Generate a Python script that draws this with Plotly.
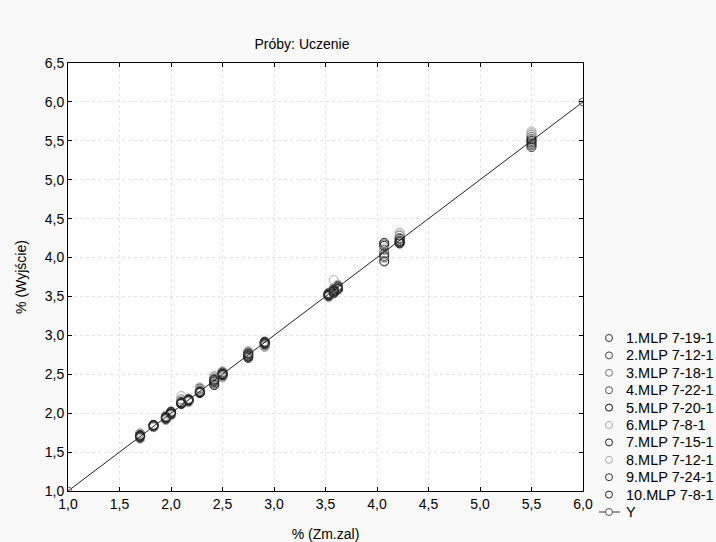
import plotly.graph_objects as go

x_vals = [1.70, 1.83, 1.95, 2.00, 2.10, 2.17, 2.28, 2.42, 2.50, 2.75, 2.91, 3.53, 3.58, 3.62, 4.07, 4.22, 5.50]

series_names = ["1.MLP 7-19-1", "2.MLP 7-12-1", "3.MLP 7-18-1", "4.MLP 7-22-1", "5.MLP 7-20-1",
                "6.MLP 7-8-1", "7.MLP 7-15-1", "8.MLP 7-12-1", "9.MLP 7-24-1", "10.MLP 7-8-1"]

s1 = [1.72, 1.84, 1.94, 2.00, 2.14, 2.17, 2.27, 2.40, 2.49, 2.74, 2.90, 3.52, 3.56, 3.62, 4.05, 4.20, 5.48]
s2 = [1.70, 1.83, 1.93, 1.99, 2.13, 2.16, 2.29, 2.44, 2.51, 2.76, 2.89, 3.51, 3.58, 3.60, 4.17, 4.25, 5.55]
s3 = [1.74, 1.85, 1.96, 2.01, 2.18, 2.18, 2.31, 2.46, 2.53, 2.78, 2.88, 3.54, 3.60, 3.63, 4.10, 4.28, 5.58]
s4 = [1.68, 1.82, 1.92, 1.98, 2.15, 2.15, 2.32, 2.42, 2.47, 2.72, 2.87, 3.50, 3.55, 3.61, 4.00, 4.22, 5.44]
s5 = [1.71, 1.84, 1.95, 2.02, 2.12, 2.17, 2.26, 2.38, 2.50, 2.73, 2.91, 3.53, 3.57, 3.64, 4.15, 4.19, 5.52]
s6 = [1.73, 1.83, 1.97, 2.00, 2.22, 2.19, 2.30, 2.48, 2.54, 2.80, 2.86, 3.55, 3.71, 3.62, 3.96, 4.32, 5.62]
s7 = [1.69, 1.84, 1.94, 1.99, 2.13, 2.16, 2.27, 2.36, 2.49, 2.71, 2.90, 3.52, 3.54, 3.59, 3.95, 4.18, 5.50]
s8 = [1.67, 1.82, 1.91, 1.97, 2.16, 2.14, 2.33, 2.45, 2.46, 2.79, 2.85, 3.49, 3.61, 3.65, 4.12, 4.30, 5.60]
s9 = [1.72, 1.83, 1.93, 2.01, 2.14, 2.18, 2.28, 2.41, 2.52, 2.75, 2.89, 3.54, 3.59, 3.62, 4.02, 4.24, 5.42]
s10 = [1.70, 1.85, 1.95, 2.00, 2.12, 2.17, 2.26, 2.43, 2.50, 2.77, 2.92, 3.51, 3.56, 3.60, 4.19, 4.21, 5.46]
series_values = [s1, s2, s3, s4, s5, s6, s7, s8, s9, s10]
series_colors = ["#333333", "#444444", "#777777", "#555555", "#111111",
                 "#aaaaaa", "#222222", "#aaaaaa", "#333333", "#222222"]

y_name = "Y"
y_x = [1.0, 6.0]
y_y = [1.0, 6.0]

tick_vals_x = [1.0, 1.5, 2.0, 2.5, 3.0, 3.5, 4.0, 4.5, 5.0, 5.5, 6.0]
tick_vals_y = [1.0, 1.5, 2.0, 2.5, 3.0, 3.5, 4.0, 4.5, 5.0, 5.5, 6.0, 6.5]

FONT = "Liberation Sans, Arial, sans-serif"
W, H = 716, 542
ML, MT, MR, MB = 68, 63, 133, 51
PW = W - ML - MR
PH = H - MT - MB


def px_to_paper_x(px):
    return (px - ML) / PW


def px_to_paper_y(py):
    return (MT + PH - py) / PH


fig = go.Figure()
for name, vals, col in zip(series_names, series_values, series_colors):
    fig.add_trace(go.Scatter(
        x=x_vals, y=vals, mode="markers", name=name, showlegend=False,
        marker=dict(symbol="circle-open", size=9, color=col, line=dict(width=1, color=col)),
    ))
fig.add_trace(go.Scatter(
    x=y_x, y=y_y, mode="lines+markers", name=y_name, showlegend=False,
    line=dict(color="#222222", width=1),
    marker=dict(symbol="circle-open", size=8, color="#666666", line=dict(width=1, color="#666666")),
))

axis_common = dict(
    showgrid=True, gridcolor="#e4e4e4", griddash="dot", gridwidth=1,
    showline=True, linecolor="#000000", linewidth=1, mirror="ticks",
    ticks="inside", ticklen=4, tickcolor="#000000",
    tickformat=".1f", zeroline=False, automargin=False,
    tickfont=dict(family=FONT, size=14, color="#000000"),
)

fig.update_xaxes(range=[1.0, 6.0], tickvals=tick_vals_x,
                 title=dict(text="% (Zm.zal)", font=dict(family=FONT, size=14, color="#000"), standoff=18),
                 **axis_common)
fig.update_yaxes(range=[1.0, 6.5], tickvals=tick_vals_y,
                 title=dict(text="% (Wyjście)", font=dict(family=FONT, size=14, color="#000"), standoff=14),
                 **axis_common)

# manual legend (compact spacing as in the reference)
leg_marker_x = 609
leg_text_x = 624
leg_y0 = 338
leg_dy = 17.4
shapes = []
annotations = []
entries = list(zip(series_names, series_colors)) + [(y_name, "#555555")]
for i, (name, col) in enumerate(entries):
    cy = leg_y0 + i * leg_dy
    r = 3.5
    if name == y_name:
        shapes.append(dict(type="line", xref="paper", yref="paper",
                           x0=px_to_paper_x(599), x1=px_to_paper_x(620),
                           y0=px_to_paper_y(cy), y1=px_to_paper_y(cy),
                           line=dict(color="#333333", width=1)))
    shapes.append(dict(type="circle", xref="paper", yref="paper",
                       x0=px_to_paper_x(leg_marker_x - r), x1=px_to_paper_x(leg_marker_x + r),
                       y0=px_to_paper_y(cy + r), y1=px_to_paper_y(cy - r),
                       line=dict(color=col, width=1), fillcolor="#f9f9f9"))
    annotations.append(dict(text=name, xref="paper", yref="paper",
                            x=px_to_paper_x(leg_text_x), y=px_to_paper_y(cy),
                            xanchor="left", yanchor="middle", showarrow=False,
                            font=dict(family=FONT, size=14.5, color="#000")))

fig.update_layout(
    width=W, height=H,
    margin=dict(l=ML, r=MR, t=MT, b=MB),
    paper_bgcolor="#f9f9f9", plot_bgcolor="#ffffff",
    separators=", ",
    font=dict(family=FONT, size=14, color="#000000"),
    title=dict(text="Próby: Uczenie", x=302 / W, xanchor="center", y=1 - 44 / H, yanchor="middle",
               font=dict(family=FONT, size=14, color="#000")),
    showlegend=False,
    shapes=shapes,
    annotations=annotations,
)

fig.write_html("out.html", config={"displayModeBar": False},
               post_script="document.body.style.margin='0';document.body.style.overflow='hidden';")
